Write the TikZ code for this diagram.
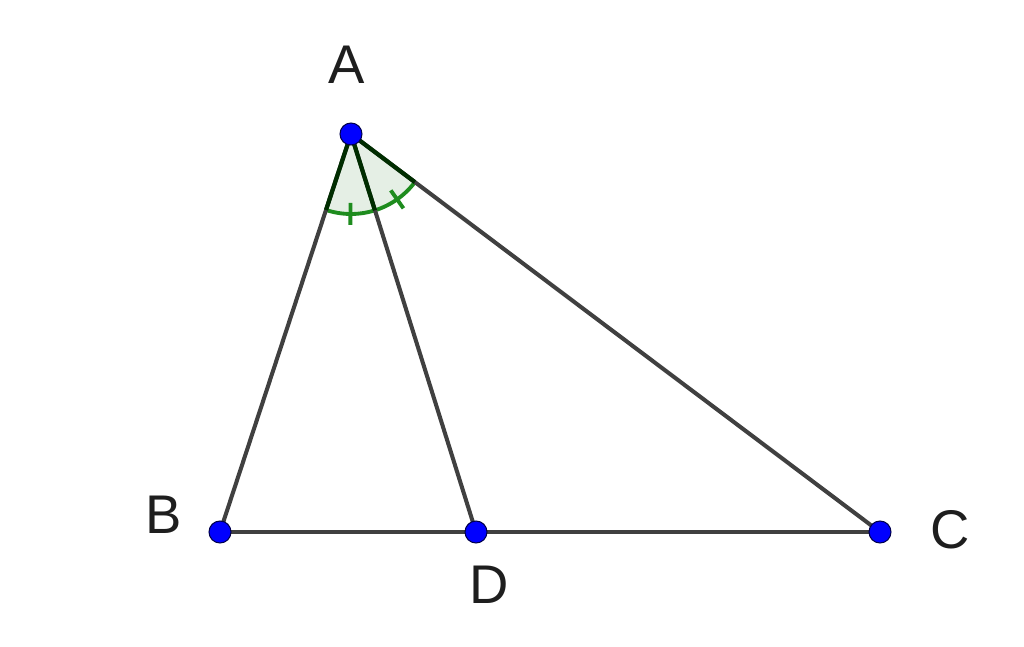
\documentclass[tikz,border=0pt]{standalone}
\usepackage{fontspec}
\setmainfont{Liberation Sans}
\begin{document}
\begin{tikzpicture}[x=0.02cm,y=-0.02cm,
  seg/.style={draw={rgb,255:red,64;green,64;blue,64},line width=2.3pt},
  dseg/.style={draw={rgb,255:red,0;green,45;blue,0},line width=2.4pt},
  pt/.style={circle,fill=blue,draw=black!70!blue,line width=0.6pt,inner sep=0pt,minimum size=0.44cm},
  lbl/.style={font=\fontsize{31}{31}\selectfont,text={rgb,255:red,30;green,30;blue,30}},
  arcc/.style={draw={rgb,255:red,30;green,140;blue,30},line width=2.2pt},
  sect/.style={fill={rgb,255:red,0;green,100;blue,0},fill opacity=0.1}]
\useasboundingbox (0,0) rectangle (1024,646);
\coordinate (A) at (351,134);
\coordinate (B) at (220,532);
\coordinate (D) at (476,532);
\coordinate (C) at (880,532);
% sectors
\fill[sect] (A) -- ++(251.8:1.6cm) arc[start angle=251.8,end angle=287.4,radius=1.6cm] -- cycle;
\fill[sect] (A) -- ++(287.4:1.6cm) arc[start angle=287.4,end angle=323.0,radius=1.6cm] -- cycle;
\draw[arcc] (A) ++(251.8:1.6cm) arc[start angle=251.8,end angle=323.0,radius=1.6cm];
\draw[arcc] (A) ++(269.6:1.38cm) -- ++(269.6:0.44cm);
\draw[arcc] (A) ++(305.2:1.38cm) -- ++(305.2:0.44cm);
% segments
\draw[seg] (A) -- (B);
\draw[seg] (B) -- (C);
\draw[seg] (A) -- (C);
\draw[seg] (A) -- (D);
\draw[dseg] (A) -- ++(251.8:1.6cm);
\draw[dseg] (A) -- ++(287.4:1.6cm);
\draw[dseg] (A) -- ++(323.0:1.6cm);
% points
\node[pt] (pA) at (A) {};
\node[pt] (pB) at (B) {};
\node[pt] (pD) at (D) {};
\node[pt] (pC) at (C) {};
% labels
\node[lbl] (lA) at (347,65) {A};
\node[lbl] (lB) at (164,515) {B};
\node[lbl] (lC) at (950,530) {C};
\node[lbl] (lD) at (489,585) {D};
\end{tikzpicture}
\end{document}
